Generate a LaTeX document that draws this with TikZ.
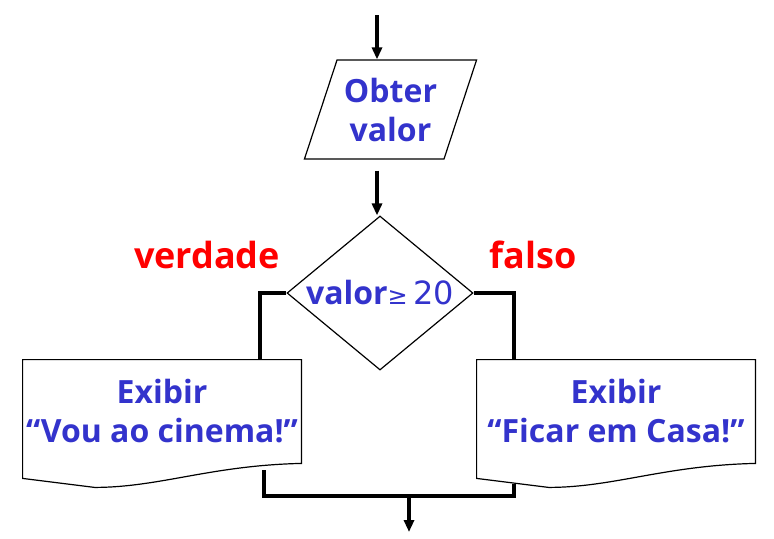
\documentclass[tikz,border=0pt]{standalone}
\usepackage{fontspec}
\setmainfont{Open Sans}
\newfontfamily\symfont{DejaVu Sans}
\usetikzlibrary{shapes.geometric}
\usetikzlibrary{arrows.meta}
\usetikzlibrary{calc}
\definecolor{txtblue}{RGB}{51,51,204}

\begin{document}
\begin{tikzpicture}[x=0.5pt,y=-0.5pt,
            >={Triangle[width=5pt,length=6pt]},
            box/.style = {font=\bfseries\fontsize{16}{19.5}\selectfont,
                text=txtblue,align=center,inner sep=0pt},
            io/.style = {box,draw,line width=0.6pt,trapezium,
                trapezium left angle=66,trapezium right angle=114,
                trapezium stretches=true,
                minimum width=86.5pt,minimum height=49.5pt},
            decision/.style = {box,draw,diamond,aspect=1.2,line width=0.6pt,
                minimum width=93pt,minimum height=77pt},
            doc/.style = {box,minimum width=139pt,minimum height=51.5pt},
            answer/.style = {font=\bfseries\fontsize{18}{20}\selectfont,text=red},
            line/.style = {line width=2pt},
            arr/.style = {line,->}]
            \useasboundingbox (0,0) rectangle (774,538);
            \coordinate (begin) at (377,15);
            \node[io](obter) at (390.5,109.5) {Obter\\valor};
            \node[decision](teste) at (380,293) {valor{\mdseries\symfont{\fontsize{12}{14}\selectfont≥}\,20}};
            \node[doc](cinema) at (162,411.5) {Exibir\\“Vou ao cinema!”};
            \node[doc](casa) at (616,411.5) {Exibir\\“Ficar em Casa!”};
            \node[answer](verdade) at (207,255) {verdade};
            \node[answer](falso) at (533,255) {falso};
            % document outlines
            \foreach \n in {cinema,casa}
                \draw[line width=0.6pt] (\n.north west) -- (\n.north east) -- (\n.south east)
                    .. controls ($(\n.south east)+(-91,2)$) and ($(\n.south west)+(137,24)$)
                    .. ($(\n.south west)+(72,24)$) -- ($(\n.south west)+(0,15)$) -- cycle;
            % connectors
            \coordinate (cinema in) at ($(cinema.north east)+(-41,0)$);
            \coordinate (casa in) at ($(casa.north west)+(37,0)$);
            \coordinate (cinema out) at ($(cinema.south west)+(241,7)$);
            \coordinate (casa out) at ($(casa.south west)+(37,21)$);
            \coordinate (merge) at (409,496);
            \coordinate (end) at (409,532);
            \draw[arr] (begin) -- (begin |- obter.north);
            \draw[arr] ($(obter.south -| begin)+(0,11)$) -- (teste.north -| begin);
            \draw[line] (teste.west) -| (cinema in);
            \draw[line] (teste.east) -| (casa in);
            \draw[line] (cinema out) |- (casa out |- merge) -- (casa out);
            \draw[arr] (merge) -- (end);
\end{tikzpicture}
\end{document}
